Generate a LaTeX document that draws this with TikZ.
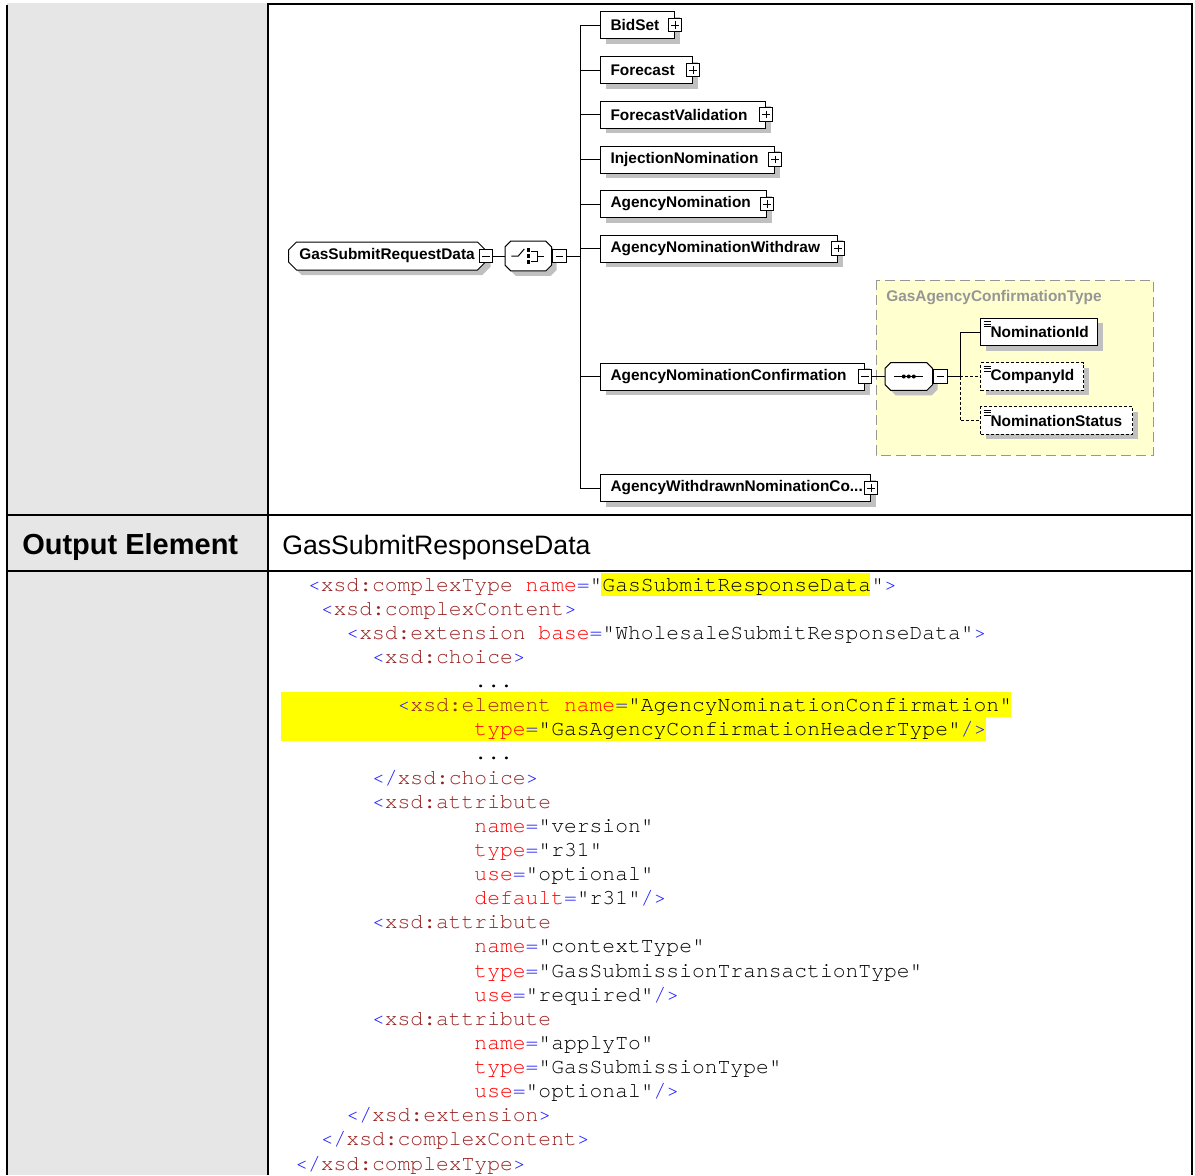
\documentclass[tikz,border=0pt]{standalone}
\usepackage{fontspec}
\setmainfont{Liberation Sans}
\setmonofont{TeX Gyre Cursor}[Ligatures={NoCommon}]
\usepackage{xcolor}
\usepackage{tikz}
\usetikzlibrary{positioning, shapes.misc, shadows}
\hyphenpenalty=10000

\definecolor{cellgray}{RGB}{230,230,230}
\definecolor{shadowgray}{RGB}{192,192,192}
\definecolor{cplxyellow}{RGB}{255,255,208}
\definecolor{cplxgray}{RGB}{150,150,150}
\definecolor{hlyellow}{RGB}{255,255,0}
\definecolor{xmlblue}{RGB}{30,30,255}
\definecolor{xmlmaroon}{RGB}{153,34,34}
\definecolor{xmlred}{RGB}{255,0,0}

\newcommand{\tg}[1]{\textcolor{xmlblue}{#1}}
\newcommand{\en}[1]{\textcolor{xmlmaroon}{#1}}
\newcommand{\an}[1]{\textcolor{xmlred}{#1}}

% octagon frame with shadow round a compositor node
\newcommand{\compframe}[2]{%
  \fill[shadowgray, transform canvas={xshift=3.75pt, yshift=-3.75pt}]
    ([xshift=#2]#1.north west) -- ([xshift=-#2]#1.north east) -- ([yshift=-#2]#1.north east)
    -- ([yshift=#2]#1.south east) -- ([xshift=-#2]#1.south east) -- ([xshift=#2]#1.south west)
    -- ([yshift=#2]#1.south west) -- ([yshift=-#2]#1.north west) -- cycle;
  \draw[line width=0.75pt, fill=white]
    ([xshift=#2]#1.north west) -- ([xshift=-#2]#1.north east) -- ([yshift=-#2]#1.north east)
    -- ([yshift=#2]#1.south east) -- ([xshift=-#2]#1.south east) -- ([xshift=#2]#1.south west)
    -- ([yshift=#2]#1.south west) -- ([yshift=-#2]#1.north west) -- cycle;}

\pgfdeclarelayer{back}
\pgfsetlayers{back,main}

\tikzset{
  elfont/.style={font=\bfseries\fontsize{11.55}{13}\selectfont},
  boxshadow/.style={drop shadow={shadow xshift=3.75pt, shadow yshift=-3.75pt, fill=shadowgray, opacity=1}},
  elem/.style={draw, line width=0.75pt, fill=white, boxshadow, anchor=west,
    minimum height=20.25pt, inner xsep=7.5pt, inner ysep=0pt,
    text width=#1, align=left, elfont},
  leaf/.style={elem=#1, minimum height=20.5pt,
    path picture={\foreach \k in {0,1,2}
      \draw[solid, line width=0.5pt] ([shift={(2.25pt,-2.4pt-1.8pt*\k)}]path picture bounding box.north west) -- ++(5.25pt,0);}},
  optleaf/.style={leaf=#1, dash pattern=on 2.25pt off 1.5pt},
  rootelem/.style={chamfered rectangle, chamfered rectangle xsep=2.5pt, draw, line width=0.75pt,
    fill=white, boxshadow, anchor=west, minimum width=147.75pt, minimum height=21pt,
    inner sep=0pt, elfont},
  compositor/.style={rectangle, anchor=west, inner sep=0pt},
  btnminus/.style={draw, line width=0.75pt, fill=white, minimum size=10pt, inner sep=0pt,
    path picture={\draw[line width=0.75pt] ([xshift=2.25pt]path picture bounding box.west) -- ([xshift=-2.25pt]path picture bounding box.east);}},
  btnplus/.style={draw, line width=0.75pt, fill=white, minimum size=10pt, inner sep=0pt,
    path picture={\draw[line width=0.75pt] ([xshift=2.25pt]path picture bounding box.west) -- ([xshift=-2.25pt]path picture bounding box.east)
      ([yshift=-2.25pt]path picture bounding box.north) -- ([yshift=2.25pt]path picture bounding box.south);}},
  wire/.style={line width=0.75pt},
  optwire/.style={line width=0.75pt, dash pattern=on 2.25pt off 1.5pt},
  tableline/.style={line width=1.5pt},
  xmlline/.style={anchor=base west, inner sep=0pt, font=\ttfamily\fontsize{16}{18}\selectfont}
}

\begin{document}
\begin{tikzpicture}[x=0.75pt, y=-0.75pt]
  \useasboundingbox (0,0) rectangle (1195,1175);

  % table and complex type frame
  \begin{pgfonlayer}{back}
    \fill[cellgray] (7,3) rectangle (267,1175);
    \draw[tableline] (7,5) -- (7,1175);
    \draw[tableline] (267.5,4) -- (267.5,1175);
    \draw[tableline] (266.8,4) -- (1193,4);
    \draw[tableline] (1192.3,4) -- (1192.3,1175);
    \draw[tableline] (6,515) -- (1193,515);
    \draw[tableline] (6,571) -- (1193,571);
    \draw[cplxgray, line width=0.75pt, dash pattern=on 7.5pt off 3.75pt, fill=cplxyellow]
      (876,280) rectangle (1153,455);
  \end{pgfonlayer}
  \node[anchor=west, inner sep=0pt, text=cplxgray, elfont] (cplxlabel) at (886,298) {GasAgencyConfirmationType};

  % schema diagram
  \node[rootelem] (root) at (288,256) {GasSubmitRequestData};
  \node[btnminus] (rootbtn) at (root.east) {};
  \node[compositor, minimum width=34.5pt, minimum height=21.75pt] (choice) at (505,256) {};
  \compframe{choice}{4.2pt}
  \node[btnminus, right=0.5pt of choice] (choicebtn) {};
  \begin{scope}[shift={(choice.center)}, line width=0.75pt]
    \draw (-17,0) -- (-10,0) -- (-4,-7);
    \foreach \d in {-6,0,6} \fill (-1.5,\d-2) rectangle (1.5,\d+2);
    \draw (3,-5) -- (9,-5) -- (9,5) -- (3,5);
    \draw (9,0) -- (16,0);
  \end{scope}
  \coordinate (trunk) at (580,256);

  \node[elem=40.5pt] (bidset) at (600,25) {BidSet};
  \node[elem=54pt] (forecast) at (600,70) {Forecast};
  \node[elem=108.75pt] (fcvalid) at (600,114.5) {ForecastValidation};
  \node[elem=115.5pt] (injnom) at (600,159.5) {InjectionNomination};
  \node[elem=109.5pt] (agnom) at (600,204) {AgencyNomination};
  \node[elem=162.75pt] (agnomwd) at (600,248.5) {AgencyNominationWithdraw};
  \node[elem=183pt] (agnomconf) at (600,376.5) {AgencyNominationConfirmation};
  \node[elem=187.5pt] (agwdconf) at (600,488) {\mbox{AgencyWithdrawnNominationCo...}};
  \foreach \n in {bidset,forecast,fcvalid,injnom,agnom,agnomwd,agwdconf}
    \node[btnplus] (\n btn) at (\n.east) {};
  \node[btnminus] (agnomconfbtn) at (agnomconf.east) {};

  \node[compositor, minimum width=35.25pt, minimum height=20.25pt] (seq) at (885,376.5) {};
  \compframe{seq}{4.2pt}
  \node[btnminus, right=0.5pt of seq] (seqbtn) {};
  \begin{scope}[shift={(seq.center)}, line width=0.75pt]
    \draw (-15,0) -- (14,0);
    \foreach \d in {-5,0,5} \fill (\d,0) circle (1.5pt);
  \end{scope}
  \coordinate (strunk) at (960,376.5);

  \node[leaf=72.75pt] (nomid) at (980,332) {\mbox{NominationId}};
  \node[optleaf=62.25pt] (compid) at (980,376.5) {CompanyId};
  \node[optleaf=99pt] (nomstat) at (980,420.5) {\mbox{NominationStatus}};

  \begin{pgfonlayer}{back}
    \draw[wire] (rootbtn.east) -- (choice.west);
    \draw[wire] (choicebtn.east) -- (trunk);
    \draw[wire] (trunk |- bidset.west) -- (trunk |- agwdconf.west);
    \foreach \n in {bidset,forecast,fcvalid,injnom,agnom,agnomwd,agnomconf,agwdconf}
      \draw[wire] (trunk |- \n.west) -- (\n.west);
    \draw[wire] (agnomconfbtn.east) -- (seq.west);
    \draw[wire] (seqbtn.east) -- (strunk) |- (nomid.west);
    \draw[optwire] (strunk) -- (compid.west);
    \draw[optwire] (strunk) |- (nomstat.west);
  \end{pgfonlayer}

  % output element row
  \node[anchor=base west, inner sep=0pt, font=\bfseries\fontsize{21.75}{26}\selectfont] (outlabel) at (22,554) {Output Element};
  \node[anchor=base west, inner sep=0pt, font=\fontsize{20}{24}\selectfont] (outvalue) at (282,554) {GasSubmitResponseData};

  % schema source
  \fill[hlyellow] (601,573) rectangle (870,596);
  \fill[hlyellow] (281,692) rectangle (1011,716.6);
  \fill[hlyellow] (281,716.6) rectangle (986,741);
  \node[xmlline] (l1) at (307.8,591) {\tg{<}\en{xsd:complexType} \an{name}\tg{=}"GasSubmitResponseData"\tg{>}};
  \node[xmlline] (l2) at (320.6,615.1) {\tg{<}\en{xsd:complexContent}\tg{>}};
  \node[xmlline] (l3) at (346.2,639.25) {\tg{<}\en{xsd:extension} \an{base}\tg{=}"WholesaleSubmitResponseData"\tg{>}};
  \node[xmlline] (l4) at (371.8,663.4) {\tg{<}\en{xsd:choice}\tg{>}};
  \node[xmlline] (l5) at (474.2,687.5) {...};
  \node[xmlline] (l6) at (397.4,711.6) {\tg{<}\en{xsd:element} \an{name}\tg{=}"AgencyNominationConfirmation"};
  \node[xmlline] (l7) at (474.2,735.75) {\an{type}\tg{=}"GasAgencyConfirmationHeaderType"\tg{/>}};
  \node[xmlline] (l8) at (474.2,759.9) {...};
  \node[xmlline] (l9) at (371.8,784) {\tg{</}\en{xsd:choice}\tg{>}};
  \node[xmlline] (l10) at (371.8,808.1) {\tg{<}\en{xsd:attribute}};
  \node[xmlline] (l11) at (474.2,832.25) {\an{name}\tg{=}"version"};
  \node[xmlline] (l12) at (474.2,856.4) {\an{type}\tg{=}"r31"};
  \node[xmlline] (l13) at (474.2,880.5) {\an{use}\tg{=}"optional"};
  \node[xmlline] (l14) at (474.2,904.6) {\an{default}\tg{=}"r31"\tg{/>}};
  \node[xmlline] (l15) at (371.8,928.75) {\tg{<}\en{xsd:attribute}};
  \node[xmlline] (l16) at (474.2,952.9) {\an{name}\tg{=}"contextType"};
  \node[xmlline] (l17) at (474.2,977) {\an{type}\tg{=}"GasSubmissionTransactionType"};
  \node[xmlline] (l18) at (474.2,1001.1) {\an{use}\tg{=}"required"\tg{/>}};
  \node[xmlline] (l19) at (371.8,1025.25) {\tg{<}\en{xsd:attribute}};
  \node[xmlline] (l20) at (474.2,1049.4) {\an{name}\tg{=}"applyTo"};
  \node[xmlline] (l21) at (474.2,1073.5) {\an{type}\tg{=}"GasSubmissionType"};
  \node[xmlline] (l22) at (474.2,1097.6) {\an{use}\tg{=}"optional"\tg{/>}};
  \node[xmlline] (l23) at (346.2,1121.75) {\tg{</}\en{xsd:extension}\tg{>}};
  \node[xmlline] (l24) at (320.6,1145.9) {\tg{</}\en{xsd:complexContent}\tg{>}};
  \node[xmlline] (l25) at (295,1170) {\tg{</}\en{xsd:complexType}\tg{>}};
\end{tikzpicture}
\end{document}
